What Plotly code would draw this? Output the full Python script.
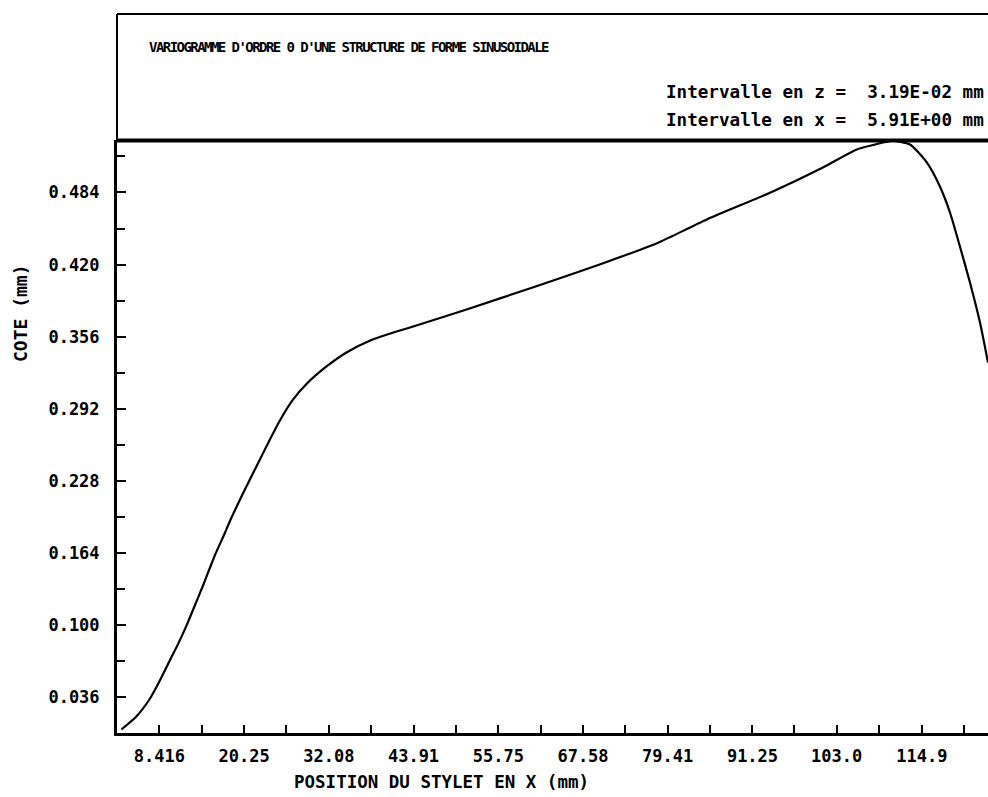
import plotly.graph_objects as go

# Profile of the stylus: position along x (mm) and height (mm)
pos_x = [3.11, 5.20, 7.02, 8.42, 9.81, 11.07, 12.19, 13.31, 14.57, 16.10,
         17.50, 18.20, 20.02, 21.97, 23.79, 25.19, 27.00, 28.96, 31.76, 34.55,
         38.19, 41.54, 44.75, 51.32, 60.55, 69.91, 75.50, 78.30, 84.87, 94.09,
         101.08, 105.83, 110.02, 110.72, 113.24, 115.61, 117.43, 118.83, 120.22,
         121.62, 123.02, 124.14]
cote = [0.0076, 0.0191, 0.0342, 0.0502, 0.0680, 0.0840, 0.0995, 0.1167, 0.1362, 0.1611,
        0.1810, 0.1915, 0.2160, 0.2409, 0.2640, 0.2810, 0.2995, 0.3140, 0.3296, 0.3420,
        0.3535, 0.3606, 0.3668, 0.3802, 0.3997, 0.4201, 0.4330, 0.4400, 0.4600, 0.4848,
        0.5061, 0.5221, 0.5290, 0.5300, 0.5265, 0.5105, 0.4893, 0.4662, 0.4360,
        0.4041, 0.3686, 0.3331]

x_tick_vals = [8.416, 20.25, 32.08, 43.91, 55.75, 67.58, 79.41, 91.25, 103.0, 114.9]
x_tick_text = ["8.416", "20.25", "32.08", "43.91", "55.75", "67.58", "79.41", "91.25", "103.0", "114.9"]
y_tick_vals = [0.036, 0.100, 0.164, 0.228, 0.292, 0.356, 0.420, 0.484]
y_tick_text = ["0.036", "0.100", "0.164", "0.228", "0.292", "0.356", "0.420", "0.484"]

title_text = "VARIOGRAMME D'ORDRE 0 D'UNE STRUCTURE DE FORME SINUSOIDALE"
step_z_text = "Intervalle en z =  3.19E-02 mm"
step_x_text = "Intervalle en x =  5.91E+00 mm"
x_title = "POSITION DU STYLET EN X (mm)"
y_title = "COTE (mm)"

W, H = 988, 797
L, R, T, B = 117, 0, 140, 64
PW, PH = W - L - R, H - T - B
X_RANGE = [2.5, 124.14]
Y_RANGE = [0.0045, 0.5305]

FONT = "DejaVu Sans Mono"


def px(xp):
    return (xp - L) / PW


def py(yp):
    return (H - B - yp) / PH


# minor ticks half-way between labelled ticks
x_half = (x_tick_vals[1] - x_tick_vals[0]) / 2
x_minor = [v - x_half for v in x_tick_vals] + [x_tick_vals[-1] + x_half]
y_half = (y_tick_vals[1] - y_tick_vals[0]) / 2
y_minor = [v - y_half for v in y_tick_vals] + [y_tick_vals[-1] + y_half]

fig = go.Figure(go.Scatter(
    x=pos_x, y=cote, mode="lines",
    line=dict(color="black", width=2.2, shape="spline", smoothing=0.6),
    hoverinfo="skip", showlegend=False,
))

tick_font = dict(family=FONT, size=17, color="black", weight="bold")

fig.update_xaxes(
    range=X_RANGE, showgrid=False, zeroline=False,
    showline=True, linecolor="black", linewidth=3,
    tickmode="array", tickvals=x_tick_vals, ticktext=x_tick_text,
    ticks="inside", ticklen=8, tickwidth=2, tickcolor="black",
    tickfont=tick_font, ticklabelstandoff=6,
    minor=dict(tickvals=x_minor, ticks="inside", ticklen=8, tickwidth=2, tickcolor="black"),
)
fig.update_yaxes(
    range=Y_RANGE, showgrid=False, zeroline=False,
    showline=True, linecolor="black", linewidth=3,
    tickmode="array", tickvals=y_tick_vals, ticktext=y_tick_text,
    ticks="inside", ticklen=9, tickwidth=2, tickcolor="black",
    tickfont=tick_font, ticklabelstandoff=11,
    minor=dict(tickvals=y_minor, ticks="inside", ticklen=8, tickwidth=2, tickcolor="black"),
)

shapes = [
    # header frame
    dict(type="line", xref="paper", yref="paper", x0=0, x1=1.02, y0=py(14), y1=py(14),
         line=dict(color="black", width=2)),
    dict(type="line", xref="paper", yref="paper", x0=0, x1=0, y0=1, y1=py(14),
         line=dict(color="black", width=2)),
    # thick rule closing the plot at the top
    dict(type="line", xref="paper", yref="paper", x0=0, x1=1.02, y0=py(140.5), y1=py(140.5),
         line=dict(color="black", width=4)),
]

annotations = [
    dict(text='<span style="letter-spacing:-1.55px">' + title_text + '</span>',
         xref="paper", yref="paper", x=px(147), y=py(47),
         xanchor="left", yanchor="middle", showarrow=False,
         font=dict(family=FONT, size=14, color="black", weight="bold")),
    dict(text=step_z_text, xref="paper", yref="paper", x=px(986), y=py(92),
         xanchor="right", yanchor="middle", showarrow=False,
         font=dict(family=FONT, size=17.6, color="black", weight="bold")),
    dict(text=step_x_text, xref="paper", yref="paper", x=px(986), y=py(120),
         xanchor="right", yanchor="middle", showarrow=False,
         font=dict(family=FONT, size=17.6, color="black", weight="bold")),
    dict(text=x_title, xref="paper", yref="paper", x=px(441), y=py(782),
         xanchor="center", yanchor="middle", showarrow=False,
         font=dict(family=FONT, size=17.5, color="black", weight="bold")),
    dict(text=y_title, xref="paper", yref="paper", x=px(20), y=py(313),
         xanchor="center", yanchor="middle", showarrow=False, textangle=-90,
         font=dict(family=FONT, size=18, color="black", weight="bold")),
]

fig.update_layout(
    width=W, height=H,
    margin=dict(l=L, r=R, t=T, b=B, pad=0),
    paper_bgcolor="white", plot_bgcolor="white",
    shapes=shapes, annotations=annotations,
)

fig.write_html("out.html")
